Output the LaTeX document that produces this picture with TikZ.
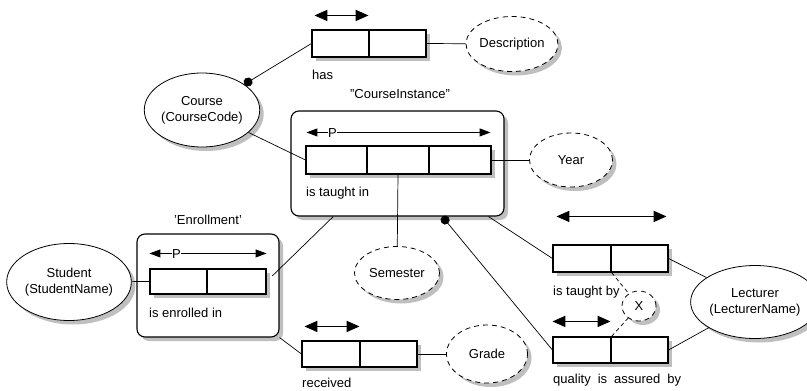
\documentclass[tikz,border=0pt]{standalone}
\usepackage{fontspec}
\setmainfont{Liberation Sans}
\usetikzlibrary{shapes.geometric,shadows,arrows.meta,calc}
\begin{document}
\begin{tikzpicture}[x=1pt,y=-1pt,
  every node/.style={font=\fontsize{13}{16}\selectfont},
  shad/.style={drop shadow={shadow xshift=4pt,shadow yshift=-4pt,fill=black!25,opacity=1}},
  cell/.style={draw,line width=1.1pt,fill=white,inner sep=0pt,shad},
  ent/.style={ellipse,draw,line width=0.8pt,fill=white,inner sep=0pt,align=center,shad},
  val/.style={ent,dash pattern=on 5pt off 4pt},
  objbox/.style={draw,line width=1.1pt,rounded corners=8pt,fill=white,inner sep=0pt,shad},
  conn/.style={line width=0.7pt},
  dotconn/.style={conn,{Circle[length=9pt,width=9pt]}-},
  uc/.style={line width=1.8pt,{Triangle[length=13pt,width=11pt]}-{Triangle[length=13pt,width=11pt]}},
  pc/.style={line width=1pt,{Triangle[length=11pt,width=8pt]}-{Triangle[length=11pt,width=8pt]}},
  lbl/.style={inner sep=0pt,anchor=west},
]
\useasboundingbox (0,0) rectangle (807,391);
\fill[white] (0,0) rectangle (807,391);

% objectified boxes
\node[objbox,minimum width=213pt,minimum height=105pt] (cibox) at (397.5,163.5) {};
\node[objbox,minimum width=142pt,minimum height=103pt] (enbox) at (208,285.5) {};

% role cells
\node[cell,minimum width=57pt,minimum height=27pt] (has1) at (340.5,43.5) {};
\node[cell,minimum width=57pt,minimum height=27pt] (has2) at (397.5,43.5) {};

\node[cell,minimum width=61pt,minimum height=28pt] (ci1) at (336.5,160) {};
\node[cell,minimum width=62pt,minimum height=28pt] (ci2) at (398,160) {};
\node[cell,minimum width=62pt,minimum height=28pt] (ci3) at (460,160) {};

\node[cell,minimum width=57pt,minimum height=25pt] (en1) at (178.5,281.5) {};
\node[cell,minimum width=59pt,minimum height=25pt] (en2) at (236.5,281.5) {};

\node[cell,minimum width=58pt,minimum height=26pt] (rec1) at (331,354) {};
\node[cell,minimum width=57pt,minimum height=26pt] (rec2) at (388.5,354) {};

\node[cell,minimum width=58pt,minimum height=27pt] (ti1) at (582,258.5) {};
\node[cell,minimum width=57pt,minimum height=27pt] (ti2) at (639.5,258.5) {};

\node[cell,minimum width=58pt,minimum height=26pt] (qa1) at (582,350) {};
\node[cell,minimum width=57pt,minimum height=26pt] (qa2) at (639.5,350) {};

% entity and value types
\node[ent,minimum width=109pt,minimum height=74pt] (course) at (202,110) {Course\\(CourseCode)};
\node[ent,minimum width=109pt,minimum height=77pt] (student) at (69,282) {Student\\(StudentName)};
\node[ent,minimum width=100pt,minimum height=73pt] (lect) at (755,302) {Lecturer\\(LecturerName)};
\node[val,minimum width=85pt,minimum height=55pt] (desc) at (512,44) {Description};
\node[val,minimum width=83pt,minimum height=54pt] (year) at (571,160) {Year};
\node[val,minimum width=85pt,minimum height=53pt] (sem) at (397,273) {Semester};
\node[val,minimum width=81pt,minimum height=58pt] (grade) at (487,354) {Grade};
\node[val,minimum width=34pt,minimum height=30pt] (xc) at (639,306) {X};

% uniqueness constraints
\draw[uc] ($(has1.north west)+(3,-14)$) -- ($(has1.north east)+(-1,-14)$);
\draw[uc] ($(rec1.north west)+(3,-14)$) -- ($(rec1.north east)+(-1,-14)$);
\draw[uc] ($(ti1.north west)+(4,-28)$) -- ($(ti2.north east)+(-2,-28)$);
\draw[uc] ($(qa1.north west)+(0,-15)$) -- ($(qa1.north east)+(-1,-15)$);
\draw[pc] ($(ci1.north west)+(1,-13)$) -- ($(ci3.north east)+(-1,-13)$);
\draw[pc] ($(en1.north west)+(0,-15)$) -- ($(en2.north east)+(0,-15)$);
\node[fill=white,inner sep=0.5pt] (p1) at ($(ci1.north west)+(27,-12)$) {P};
\node[fill=white,inner sep=0.5pt] (p2) at ($(en1.north west)+(27,-14)$) {P};

% connectors
\draw[dotconn] (course) -- (has1.west);
\draw[conn] (course) -- (ci1.west);
\draw[conn] (has2.east) -- (desc);
\draw[conn] (ci3.east) -- (year);
\draw[conn] (ci2.south) -- (sem);
\draw[conn] (rec2.east) -- (grade);
\draw[conn] (student) -- (en1.west);
\draw[conn,shorten <=8pt] (en2.east) -- ($(cibox.south west)!0.2!(cibox.south east)$);
\draw[conn] (enbox.south east) -- (rec1.west);
\draw[conn] ($(cibox.south west)!0.925!(cibox.south east)$) -- (ti1.west);
\draw[dotconn] ($(cibox.south west)!0.709!(cibox.south east)$) -- (qa1.west);
\draw[conn] (ti2.east) -- (lect);
\draw[conn] (qa2.east) -- (lect);
\draw[conn,dash pattern=on 4pt off 3pt] (ti1.south east) -- (xc);
\draw[conn,dash pattern=on 4pt off 3pt] (qa1.north east) -- (xc);

% labels
\node[lbl] (lhas) at (312,75) {has};
\node (lci) at (400,94) {"CourseInstance"};
\node[lbl] (ltin) at (306,193) {is taught in};
\node (len) at (208,220) {'Enrollment'};
\node[lbl] (lenr) at (149,313) {is enrolled in};
\node[lbl] (lrec) at (302,383) {received};
\node[lbl] (ltby) at (553,292) {is taught by};
\node[lbl] (lqa) at (553,380) {quality\hspace{7pt}is\hspace{7pt}assured\hspace{7pt}by};
\end{tikzpicture}
\end{document}
